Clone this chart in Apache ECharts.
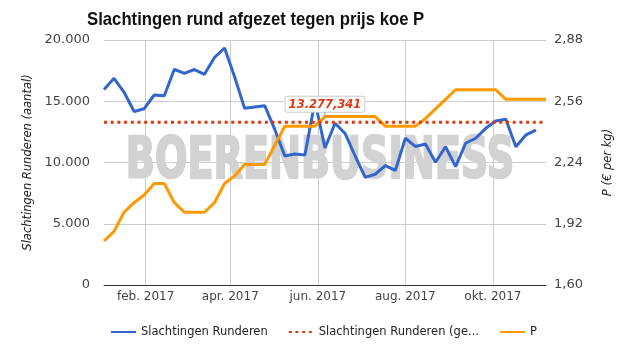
<!DOCTYPE html>
<html><head><meta charset="utf-8">
<script src="https://cdn.jsdelivr.net/npm/echarts@6/dist/echarts.min.js"></script>
<style>html,body{margin:0;padding:0;background:#fff}#c{width:625px;height:355px}</style>
</head><body><div id="c"></div>
<script>
const weeks = ['2017-01-03','2017-01-10','2017-01-17','2017-01-24','2017-01-31',
  '2017-02-07','2017-02-14','2017-02-21','2017-02-28',
  '2017-03-07','2017-03-14','2017-03-21','2017-03-28',
  '2017-04-04','2017-04-11','2017-04-18','2017-04-25',
  '2017-05-02','2017-05-09','2017-05-16','2017-05-23','2017-05-30',
  '2017-06-06','2017-06-13','2017-06-20','2017-06-27',
  '2017-07-04','2017-07-11','2017-07-18','2017-07-25',
  '2017-08-01','2017-08-08','2017-08-15','2017-08-22','2017-08-29',
  '2017-09-05','2017-09-12','2017-09-19','2017-09-26',
  '2017-10-03','2017-10-10','2017-10-17','2017-10-24','2017-10-31',
  '2017-11-07'];
const slachtingen = [15960,16870,15730,14160,14390,15510,15450,17610,17280,17590,
  17200,18570,19350,17000,14420,14530,14640,12700,10530,10690,
  10610,15000,11180,13200,12370,10530,8780,9040,9740,9350,
  11980,11310,11510,10020,11290,9660,11570,11980,12790,13390,
  13530,11290,12250,12650];
const prijsP = [1.83,1.88,1.98,2.03,2.07,2.13,2.13,2.03,1.98,1.98,
  1.98,2.03,2.13,2.17,2.23,2.23,2.23,2.33,2.43,2.43,
  2.43,2.43,2.48,2.48,2.48,2.48,2.48,2.48,2.43,2.43,
  2.43,2.43,2.47,2.52,2.57,2.62,2.62,2.62,2.62,2.62,
  2.57,2.57,2.57,2.57,2.57];
const gemiddelde = 13277.341;
const gemLabelIndex = 22;
const monthTicks = ['2017-02-01','2017-04-01','2017-06-01','2017-08-01','2017-10-01'];
const monthLabels = ['feb. 2017','apr. 2017','jun. 2017','aug. 2017','okt. 2017'];
const titleText = 'Slachtingen rund afgezet tegen prijs koe P';
const watermarkText = 'BOERENBUSINESS';

const FONT = 'DejaVu Sans';
const ts = s => Date.parse(s + 'T00:00:00Z');
const monthTs = monthTicks.map(ts);
const nl = (v, d) => {
  const parts = v.toFixed(d).split('.');
  const intp = parts[0].replace(/\B(?=(\d{3})+(?!\d))/g, '.');
  return parts.length > 1 ? intp + ',' + parts[1] : intp;
};
const gemTxt = nl(gemiddelde, 3);

const chart = echarts.init(document.getElementById('c'), null, {renderer: 'canvas'});
chart.setOption({
  animation: false,
  backgroundColor: '#fff',
  graphic: [{
    type: 'text', x: 87, y: 20, z: 10, silent: true, scaleX: 0.88,
    style: {text: titleText, font: 'bold 19px "Liberation Sans", sans-serif', fill: '#111', align: 'left', verticalAlign: 'middle'}
  }, {
    type: 'text', x: 320, y: 163, z: 1, silent: true, scaleX: 0.67,
    style: {text: watermarkText, font: 'bold 57px "DejaVu Sans", sans-serif', fill: '#d2d2d2', stroke: '#d2d2d2', lineWidth: 2.5, align: 'center', verticalAlign: 'middle'}
  }],
  grid: {left: 104, right: 79, top: 40, bottom: 70, containLabel: false, outerBoundsMode: 'none'},
  legend: {
    left: 105, top: 321, itemWidth: 25, itemHeight: 14, itemGap: 20,
    itemStyle: {color: 'rgba(0,0,0,0)', borderWidth: 0, opacity: 0},
    textStyle: {fontFamily: FONT, fontSize: 11.5, color: '#222'},
    data: [
      'Slachtingen Runderen',
      {name: 'Slachtingen Runderen (gemiddelde)', textStyle: {width: 170, overflow: 'truncate', ellipsis: '...'}},
      'P'
    ]
  },
  xAxis: {
    type: 'value',
    min: ts(weeks[0]), max: ts(weeks[weeks.length - 1]),
    axisLine: {show: true, lineStyle: {color: '#333', width: 1}},
    axisTick: {show: false, customValues: monthTs},
    axisLabel: {
      customValues: monthTs, margin: 6, fontFamily: FONT, fontSize: 12, color: '#444',
      formatter: v => { const i = monthTs.indexOf(v); return i >= 0 ? monthLabels[i] : ''; }
    },
    splitLine: {show: true, lineStyle: {color: '#cccccc', width: 1}}
  },
  yAxis: [{
    type: 'value', position: 'left', min: 0, max: 20000, interval: 5000,
    name: 'Slachtingen Runderen (aantal)', nameLocation: 'middle', nameRotate: 90, nameGap: 70,
    nameTextStyle: {fontFamily: FONT, fontSize: 11.5, fontStyle: 'italic', color: '#222'},
    axisLine: {show: false}, axisTick: {show: false},
    axisLabel: {margin: 14, fontFamily: FONT, fontSize: 13, color: '#444', formatter: v => nl(v, 0)},
    splitLine: {show: true, lineStyle: {color: '#cccccc', width: 1}}
  }, {
    type: 'value', position: 'right', min: 1.6, max: 2.88, interval: 0.32,
    name: 'P (€ per kg)', nameLocation: 'middle', nameRotate: 90, nameGap: 56,
    nameTextStyle: {fontFamily: FONT, fontSize: 11.5, fontStyle: 'italic', color: '#222'},
    axisLine: {show: false}, axisTick: {show: false},
    axisLabel: {margin: 8, fontFamily: FONT, fontSize: 13, color: '#444', formatter: v => nl(v, 2)},
    splitLine: {show: false}
  }],
  series: [{
    name: 'Slachtingen Runderen', type: 'line', yAxisIndex: 0, symbol: 'none', z: 3,
    lineStyle: {color: '#3366cc', width: 3}, itemStyle: {color: '#3366cc'},
    data: slachtingen.map((v, i) => [ts(weeks[i]), v])
  }, {
    name: 'Slachtingen Runderen (gemiddelde)', type: 'line', yAxisIndex: 0, symbol: 'none', z: 5,
    lineStyle: {color: '#dc3912', width: 3, type: [3, 3.7]}, itemStyle: {color: '#dc3912'},
    data: weeks.map((w, i) => i === gemLabelIndex ? {
      value: [ts(w), gemiddelde],
      symbol: 'circle', symbolSize: 1,
      itemStyle: {color: 'rgba(0,0,0,0)'},
      label: {
        show: true, position: 'top', distance: 5,
        formatter: '{b|' + gemTxt + '}\n{t|}',
        rich: {
          b: {align: 'center', color: '#dc3912', fontFamily: FONT, fontWeight: 'bold', fontStyle: 'italic', fontSize: 11.5,
              backgroundColor: '#fff', borderColor: '#cccccc', borderWidth: 1, padding: [2, 3, 1, 3], borderRadius: 2},
          t: {align: 'center', width: 1, height: 5, backgroundColor: '#999'}
        }
      }
    } : [ts(w), gemiddelde])
  }, {
    name: 'P', type: 'line', yAxisIndex: 1, symbol: 'none', z: 4,
    lineStyle: {color: '#ff9900', width: 3}, itemStyle: {color: '#ff9900'},
    data: prijsP.map((v, i) => [ts(weeks[i]), v])
  }]
});
</script>
</body></html>
